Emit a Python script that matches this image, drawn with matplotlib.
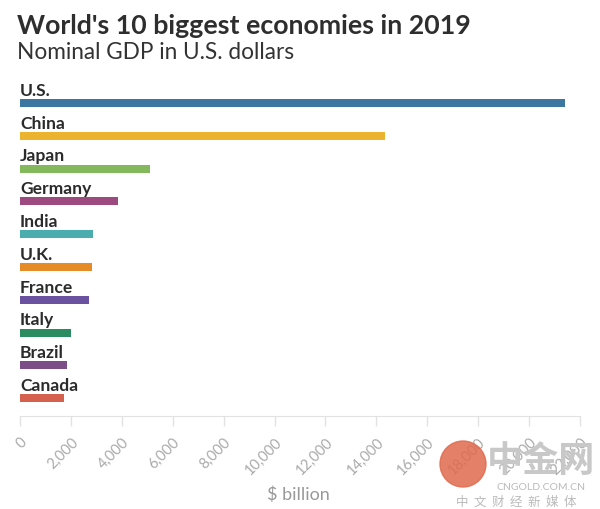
import matplotlib
matplotlib.use("Agg")
import numpy as np
from matplotlib import pyplot as plt
from matplotlib.patches import Circle

# ---------------- data -----------------------------------
countries = ["U.S.", "China", "Japan", "Germany", "India",
             "U.K.", "France", "Italy", "Brazil", "Canada"]
gdp = [21430, 14340, 5110, 3850, 2870, 2830, 2715, 2000, 1860, 1740]
colors = ["#3b77a0", "#ecb32e", "#84b85c", "#9c4a80", "#4cadae",
          "#e58b28", "#6a52a0", "#2a8c60", "#7b4e88", "#d6604e"]
x_ticks = list(range(0, 22001, 2000))
x_labels = ["{:,}".format(v) for v in x_ticks]

# ---------------- figure ---------------------------------
plt.rcParams["font.family"] = ["Lato", "DejaVu Sans"]
fig = plt.figure(figsize=(6, 5.1), dpi=100)

W, H = 600, 510
ax_left, ax_right = 20, 580
ax_top, ax_bottom = 80, 417
ax = fig.add_axes([ax_left / W, 1 - ax_bottom / H,
                   (ax_right - ax_left) / W, (ax_bottom - ax_top) / H])

pos = np.arange(len(countries))
step = 32.8
first = 104
ax.set_ylim((ax_bottom - first) / step, (ax_top - first) / step)
ax.set_xlim(0, 22000)

ax.barh(pos, gdp, height=8 / step, color=colors, zorder=3)

for p, name in zip(pos, countries):
    ax.text(0, p - 0.25, name, fontsize=12.6, fontweight="bold",
            color="#2b2b2b", va="baseline", ha="left")

ax.set_yticks([])
ax.set_xticks(x_ticks)
ax.set_xticklabels(x_labels, rotation=45, ha="right",
                   rotation_mode="anchor", fontsize=10.5, color="#aaaaaa")
ax.tick_params(axis="x", length=7, color="#e2e2e2", width=1, pad=6)
for s in ["top", "right", "left"]:
    ax.spines[s].set_visible(False)
ax.spines["bottom"].set_color("#e2e2e2")

fig.text(298 / W, 1 - 495 / H, "$ billion", fontsize=13, color="#999999",
         ha="center", va="center")

# ---------------- titles ---------------------------------
fig.text(17 / W, 1 - 34 / H, "World's 10 biggest economies in 2019",
         fontsize=19.3, fontweight="bold", color="#2e2e2e", va="baseline")
fig.text(17 / W, 1 - 59 / H, "Nominal GDP in U.S. dollars",
         fontsize=16.3, color="#333333", va="baseline")

# ---------------- watermark ------------------------------
wm = fig.add_axes([0, 0, 1, 1], facecolor="none")
wm.set_xlim(0, W)
wm.set_ylim(H, 0)
wm.axis("off")
wm.add_patch(Circle((463, 465), 23, color="#e06a4e", alpha=0.85))
wm.text(541, 462, "中金网", fontsize=26, fontweight="bold", color="#c8c8c8",
        ha="center", va="center", family=["Noto Sans CJK SC"])
wm.text(541, 488, "CNGOLD.COM.CN", fontsize=7.5, color="#bbbbbb",
        ha="center", va="center")
wm.text(516, 502, "中  文  财  经  新  媒  体", fontsize=9, color="#bbbbbb",
        ha="center", va="center", family=["Noto Sans CJK SC"])

fig.savefig("out.png", dpi=100)
